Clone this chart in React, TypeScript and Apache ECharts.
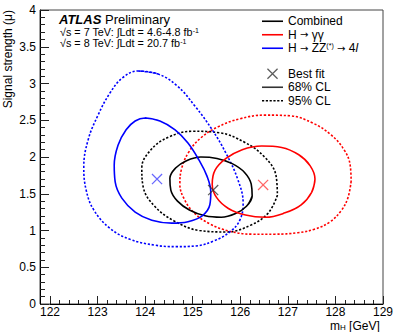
import React, { useEffect, useRef } from "react";
import * as echarts from "echarts";

const FONT = "'Liberation Sans', Arial, Helvetica, sans-serif";
const ARROW_FONT = "'DejaVu Sans', sans-serif";

// Axis ranges
const massRange = [122, 129];
const muRange = [0, 4];

// Channel names
const channelNames = ["Combined", "H → γγ", "H → ZZ(*) → 4l"];
const styleNames = ["Best fit", "68% CL", "95% CL"];

// Contours: [mH (GeV), mu]
const combined68 = [
  [126.25, 1.47], [126.13, 1.33], [125.9, 1.23], [125.6, 1.18], [125.26, 1.2],
  [124.93, 1.28], [124.68, 1.4], [124.54, 1.55], [124.52, 1.71], [124.64, 1.85],
  [124.87, 1.95], [125.17, 2.0], [125.51, 1.98], [125.83, 1.91], [126.09, 1.79],
  [126.23, 1.63], [126.25, 1.47], [126.13, 1.33],
];
const combined95 = [
  [126.78, 1.48], [126.59, 1.24], [126.21, 1.07], [125.71, 0.98], [125.14, 1.0],
  [124.61, 1.13], [124.2, 1.33], [123.96, 1.59], [123.93, 1.85], [124.11, 2.09],
  [124.49, 2.27], [125.0, 2.35], [125.56, 2.33], [126.09, 2.2], [126.51, 2.0],
  [126.75, 1.75], [126.78, 1.48],
];
const gg68 = [
  [127.57, 1.7], [127.5, 1.52], [127.28, 1.35], [126.94, 1.24], [126.53, 1.18],
  [126.11, 1.21], [125.75, 1.3], [125.5, 1.45], [125.41, 1.63], [125.47, 1.82],
  [125.7, 1.98], [126.04, 2.1], [126.45, 2.15], [126.87, 2.13], [127.23, 2.03],
  [127.47, 1.88], [127.57, 1.7], [127.5, 1.52],
];
const gg95 = [
  [128.33, 1.67], [128.26, 1.44], [128.12, 1.27], [127.89, 1.12], [127.57, 1.02],
  [127.21, 0.97], [126.73, 0.95], [126.25, 0.95], [125.78, 0.99], [125.36, 1.09],
  [125.03, 1.24], [124.82, 1.43], [124.73, 1.63], [124.77, 1.85], [124.92, 2.07],
  [125.17, 2.26], [125.53, 2.41], [125.99, 2.52], [126.52, 2.57], [127.05, 2.56],
  [127.53, 2.46], [127.91, 2.3], [128.18, 2.1], [128.31, 1.89], [128.33, 1.67],
];
const zz68 = [
  [124.0, 2.53], [124.31, 2.49], [124.63, 2.37], [124.9, 2.19], [125.13, 1.96],
  [125.3, 1.74], [125.38, 1.52], [125.36, 1.35], [125.2, 1.2], [124.9, 1.12],
  [124.56, 1.1], [124.14, 1.14], [123.79, 1.25], [123.51, 1.44], [123.37, 1.66],
  [123.35, 1.89], [123.43, 2.16], [123.6, 2.37], [123.79, 2.49], [124.0, 2.53],
  [124.31, 2.49],
];
const zz95 = [
  [123.85, 3.17], [124.27, 3.13], [124.67, 2.97], [125.05, 2.69], [125.41, 2.37],
  [125.7, 2.05], [125.95, 1.69], [126.06, 1.37], [125.99, 1.14], [125.78, 0.98],
  [125.45, 0.86], [125.07, 0.79], [124.65, 0.78], [124.21, 0.8], [123.68, 0.88],
  [123.26, 1.03], [122.92, 1.28], [122.76, 1.55], [122.71, 1.86], [122.8, 2.23],
  [123.01, 2.57], [123.26, 2.87], [123.53, 3.08], [123.85, 3.17], [124.27, 3.13],
];

// Best-fit points: [mH, mu]
const bestFitCombined = [125.43, 1.55];
const bestFitGG = [126.48, 1.62];
const bestFitZZ = [124.25, 1.7];

const COL_COMB = "#000000";
const COL_GG = "#ff0000";
const COL_ZZ = "#0000ff";

const CROSS = "path://M0,0.8L0.8,0L10,9.2L9.2,10Z M9.2,0L10,0.8L0.8,10L0,9.2Z";
const BAR = "path://M0,0h21v1.6h-21z";
const DASHES =
  "path://M0,0h2.2v1.3h-2.2z M3.8,0h2.2v1.3h-2.2z M7.6,0h2.2v1.3h-2.2z M11.4,0h2.2v1.3h-2.2z M15.2,0h2.2v1.3h-2.2z M19,0h2v1.3h-2z";

const legendRich: Record<string, string> = {
  "Combined": "Combined",
  "H → γγ": "H {ar|→} γγ",
  "H → ZZ(*) → 4l": "H {ar|→} ZZ{sup|(*)} {ar|→} 4{it|l}",
  "Best fit": "Best fit",
  "68% CL": "68% CL",
  "95% CL": "95% CL",
};

function contour(name: string, data: number[][], color: string, dashed: boolean) {
  return {
    type: "line",
    name,
    xAxisIndex: 1,
    yAxisIndex: 1,
    data,
    smooth: 0.4,
    symbol: "none",
    showSymbol: false,
    silent: true,
    itemStyle: { color },
    lineStyle: dashed
      ? { color, width: 1.6, type: [2.2, 1.8] }
      : { color, width: 1.6, type: "solid" },
    z: dashed ? 2 : 3,
  };
}

export default function App() {
  const ref = useRef<HTMLDivElement>(null);
  useEffect(() => {
    if (!ref.current) return;
    document.body.style.margin = "0";
    const chart = echarts.init(ref.current, null, { renderer: "svg" });
    const textBase = { color: "#000", fontFamily: FONT };
    const supStyle = { ...textBase, fontSize: 7, lineHeight: 7, verticalAlign: "top", fontWeight: "normal" };
    const option = {
      animation: false,
      backgroundColor: "#fff",
      textStyle: { fontFamily: FONT },
      title: [
        {
          left: 59,
          top: 12.5,
          padding: 0,
          text: "{a|ATLAS} {b|Preliminary}",
          textStyle: {
            ...textBase,
            fontSize: 13,
            lineHeight: 13,
            fontWeight: "normal",
            rich: {
              a: { ...textBase, fontSize: 13, lineHeight: 13, fontWeight: "bold", fontStyle: "italic" },
              b: { ...textBase, fontSize: 13, lineHeight: 13, fontWeight: "normal" },
            },
          },
        },
        {
          left: 60,
          top: 26.5,
          padding: 0,
          text: "√s = 7 TeV: ∫Ldt = 4.6-4.8 fb{s|-1}",
          textStyle: {
            ...textBase,
            fontSize: 10.8,
            fontWeight: "normal",
            lineHeight: 11,
            rich: { s: supStyle },
          },
        },
        {
          left: 60,
          top: 37.8,
          padding: 0,
          text: "√s = 8 TeV: ∫Ldt = 20.7 fb{s|-1}",
          textStyle: {
            ...textBase,
            fontSize: 10.8,
            fontWeight: "normal",
            lineHeight: 11,
            rich: { s: supStyle },
          },
        },
      ],
      legend: [
        {
          orient: "vertical",
          left: 262,
          top: 14.5,
          padding: 0,
          itemGap: 0,
          itemWidth: 21,
          itemHeight: 12,
          selectedMode: false,
          data: [
            { name: channelNames[0], icon: BAR, itemStyle: { color: COL_COMB, borderWidth: 0 } },
            { name: channelNames[1], icon: BAR, itemStyle: { color: COL_GG, borderWidth: 0 } },
            { name: channelNames[2], icon: BAR, itemStyle: { color: COL_ZZ, borderWidth: 0 } },
          ],
          formatter: (n: string) => legendRich[n] ?? n,
          textStyle: {
            ...textBase,
            fontSize: 12,
            lineHeight: 13.5,
            rich: {
              sup: supStyle,
              it: { ...textBase, fontSize: 12, fontStyle: "italic" },
              ar: { color: "#000", fontFamily: ARROW_FONT, fontSize: 10 },
            },
          },
        },
        {
          orient: "vertical",
          left: 262,
          top: 67,
          padding: 0,
          itemGap: 0,
          itemWidth: 21,
          itemHeight: 11,
          selectedMode: false,
          data: [
            { name: styleNames[0], icon: CROSS, itemStyle: { color: "#333", borderWidth: 0 } },
            { name: styleNames[1], icon: BAR, itemStyle: { color: "#333", borderWidth: 0 } },
            { name: styleNames[2], icon: DASHES, itemStyle: { color: "#000", borderWidth: 0 } },
          ],
          formatter: (n: string) => legendRich[n] ?? n,
          textStyle: { ...textBase, fontSize: 12, lineHeight: 13.5 },
        },
      ],
      grid: [
        {
          left: 40, right: 16, top: 10, bottom: 28,
          show: true, borderColor: "#444", borderWidth: 1,
          containLabel: false, outerBoundsMode: "none",
        },
        {
          left: 50, right: 16, top: 10, bottom: 28,
          show: false, containLabel: false, outerBoundsMode: "none",
        },
      ],
      xAxis: [
        { gridIndex: 0, type: "value", min: 0, max: 1, show: false },
        {
          gridIndex: 1,
          type: "value",
          min: massRange[0],
          max: massRange[1],
          interval: 1,
          axisLine: { show: true, onZero: false, lineStyle: { color: "#000", width: 1 } },
          axisTick: { show: true, inside: true, length: 8, lineStyle: { color: "#222" } },
          minorTick: { show: true, splitNumber: 5, length: 4, lineStyle: { color: "#222" } },
          axisLabel: { margin: 3, fontSize: 12, lineHeight: 10, ...textBase },
          splitLine: { show: false },
          name: "m{sub|H} [GeV]",
          nameLocation: "end",
          nameGap: -53,
          nameMoveOverlap: false,
          nameTextStyle: {
            ...textBase,
            fontSize: 12,
            lineHeight: 11,
            align: "left",
            verticalAlign: "top",
            padding: [16.5, 0, 0, 0],
            rich: { sub: { ...textBase, fontSize: 8, lineHeight: 8, verticalAlign: "bottom" } },
          },
        },
      ],
      yAxis: [
        {
          gridIndex: 0,
          type: "value",
          min: muRange[0],
          max: muRange[1],
          interval: 0.5,
          axisLine: { show: true, onZero: false, lineStyle: { color: "#000", width: 1 } },
          axisTick: { show: true, inside: true, length: 9, lineStyle: { color: "#222" } },
          minorTick: { show: true, splitNumber: 5, length: 5, lineStyle: { color: "#222" } },
          axisLabel: { margin: 4, fontSize: 12, ...textBase },
          splitLine: { show: false },
          name: "Signal strength (μ)",
          nameLocation: "end",
          nameRotate: 90,
          nameGap: 0,
          nameMoveOverlap: false,
          nameTextStyle: {
            ...textBase,
            fontSize: 12,
            align: "right",
            verticalAlign: "bottom",
            padding: [0, 0, 26, 0],
          },
        },
        { gridIndex: 1, type: "value", min: muRange[0], max: muRange[1], show: false },
      ],
      series: [
        contour(channelNames[0], combined68, COL_COMB, false),
        contour(channelNames[1], gg68, COL_GG, false),
        contour(channelNames[2], zz68, COL_ZZ, false),
        contour(channelNames[0], combined95, COL_COMB, true),
        contour(channelNames[1], gg95, COL_GG, true),
        contour(channelNames[2], zz95, COL_ZZ, true),
        {
          type: "scatter",
          name: styleNames[0],
          xAxisIndex: 1,
          yAxisIndex: 1,
          symbol: CROSS,
          symbolSize: 11,
          symbolKeepAspect: true,
          itemStyle: { color: "#333" },
          z: 4,
          data: [
            { value: bestFitCombined, itemStyle: { color: "#333" } },
            { value: bestFitGG, itemStyle: { color: "#ff4040" } },
            { value: bestFitZZ, itemStyle: { color: "#4040ff" } },
          ],
        },
        {
          type: "line",
          name: styleNames[1],
          xAxisIndex: 1,
          yAxisIndex: 1,
          data: [],
          symbol: "none",
          itemStyle: { color: "#333" },
          lineStyle: { color: "#333", width: 1.6 },
        },
        {
          type: "line",
          name: styleNames[2],
          xAxisIndex: 1,
          yAxisIndex: 1,
          data: [],
          symbol: "none",
          itemStyle: { color: "#000" },
          lineStyle: { color: "#000", width: 1.6, type: [2.2, 1.8] },
        },
      ],
    };
    chart.setOption(option as any);
    return () => chart.dispose();
  }, []);
  return (
    <div
      ref={ref}
      style={{ position: "fixed", left: 0, top: 0, width: 399, height: 332, background: "#fff" }}
    />
  );
}
